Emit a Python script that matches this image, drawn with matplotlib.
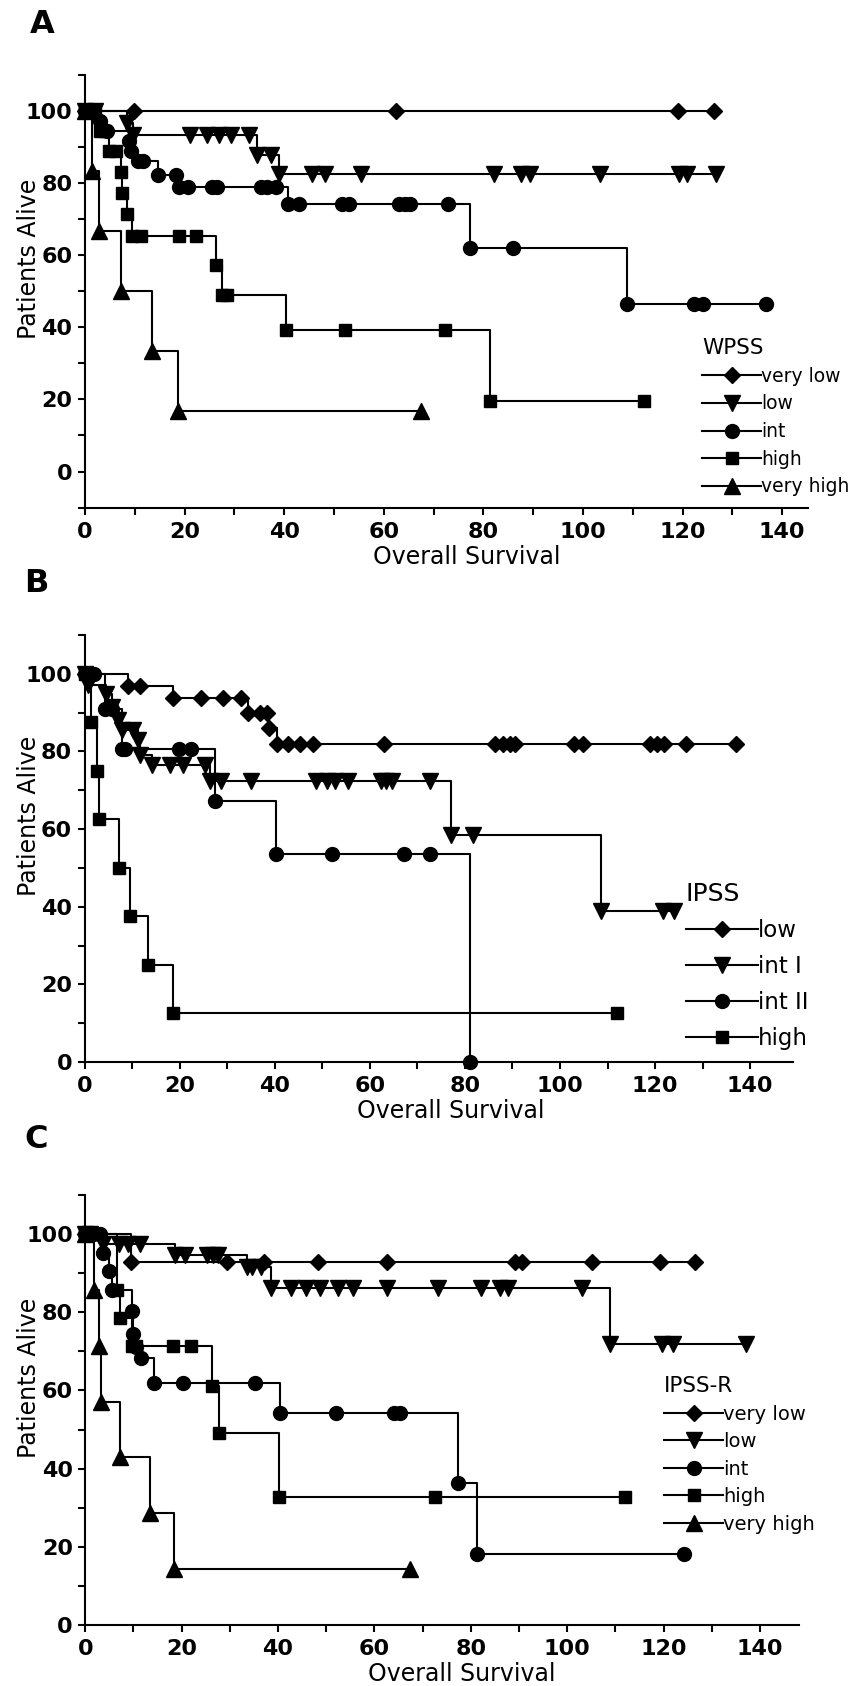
import matplotlib
matplotlib.use("Agg")
import matplotlib.pyplot as plt
from matplotlib.ticker import MultipleLocator

# ---------------- Panel A : WPSS ----------------
A_vlow_t = [0, 9.9, 62.5, 119, 126.4]
A_vlow_s = [100, 100, 100, 100, 100]
A_low_t = [0, 2, 8.5, 9.6, 21, 24.6, 27, 29.3, 33, 34.5, 37.3, 38.9, 45.6, 48.1, 55.4,
           82.2, 87.6, 89.3, 103.4, 119.3, 120.9, 126.7]
A_low_s = [100, 100, 96.7, 93.3, 93.3, 93.3, 93.3, 93.3, 93.3, 87.8, 87.8, 82.5, 82.5, 82.5,
           82.5, 82.5, 82.5, 82.5, 82.5, 82.5, 82.5, 82.5]
A_int_t = [0, 1.5, 3, 4.5, 8.8, 9.3, 10.6, 11.6, 14.6, 18.3, 18.8, 20.6, 25.6, 26.6, 35.3,
           36.6, 38.3, 40.7, 42.9, 51.6, 53, 63.1, 64.2, 65.3, 72.9, 77.3, 86, 108.9,
           122.3, 124.2, 136.7]
A_int_s = [100, 100, 97.2, 94.4, 91.7, 88.9, 86.1, 86.1, 82.2, 82.2, 78.8, 78.8, 78.8, 78.8,
           78.8, 78.8, 78.8, 74.2, 74.2, 74.2, 74.2, 74.2, 74.2, 74.2, 74.2, 62, 62, 46.3,
           46.3, 46.3, 46.3]
A_high_t = [0, 1, 2, 3, 4, 4.9, 6.2, 7.2, 7.5, 8.5, 9.5, 11.2, 18.9, 22.2, 26.3, 27.5, 28.5,
            40.4, 52.2, 72.3, 81.3, 112.2]
A_high_s = [100, 100, 100, 94.4, 94.4, 88.9, 88.9, 83.1, 77.3, 71.4, 65.4, 65.4, 65.4, 65.4,
            57.2, 49, 49, 39.2, 39.2, 39.2, 19.6, 19.6]
A_vhigh_t = [0, 1.4, 2.9, 7.2, 13.5, 18.6, 67.4]
A_vhigh_s = [100, 83.3, 66.7, 50, 33.3, 16.7, 16.7]
A_labels = ["very low", "low", "int", "high", "very high"]

# ---------------- Panel B : IPSS ----------------
B_low_t = [0, 1, 9.2, 11.6, 18.7, 24.6, 29.1, 33, 34.4, 36.9, 38.4, 38.7, 40.4, 42.9, 45.4,
           48, 62.9, 86.3, 88, 89.4, 90.6, 102.9, 104.8, 118.9, 120.3, 121.9, 126.5, 137.1]
B_low_s = [100, 100, 96.9, 96.9, 93.7, 93.7, 93.7, 93.7, 90, 90, 90, 86, 82, 82, 82, 82, 82,
           82, 82, 82, 82, 82, 82, 82, 82, 82, 82, 82]
B_int1_t = [0, 0.8, 4.6, 5.7, 7.1, 7.8, 10.3, 11.3, 11.6, 14.1, 17.9, 20.7, 25.3, 26.3, 28.8,
            35.1, 48.6, 50.9, 52.6, 55.4, 62.3, 63.4, 64.6, 72.6, 77.1, 81.7, 108.6, 121.7, 124]
B_int1_s = [100, 97, 94.9, 91.4, 88, 85.4, 85.4, 83, 79.2, 76.6, 76.6, 76.6, 76.6, 72.5, 72.5,
            72.5, 72.5, 72.5, 72.5, 72.5, 72.5, 72.5, 72.5, 72.5, 58.4, 58.4, 38.9, 38.9, 38.9]
B_int2_t = [0, 1, 2, 4.3, 5.7, 7.8, 8.6, 19.9, 22.3, 27.4, 40.2, 52, 67.1, 72.6, 81.1]
B_int2_s = [100, 100, 100, 90.9, 90.9, 80.7, 80.7, 80.7, 80.7, 67.2, 53.7, 53.7, 53.7, 53.7, 0]
B_high_t = [0, 1.3, 2.6, 3.1, 7.2, 9.5, 13.4, 18.6, 112]
B_high_s = [100, 87.5, 75, 62.5, 50, 37.5, 25, 12.5, 12.5]
B_labels = ["low", "int I", "int II", "high"]

# ---------------- Panel C : IPSS-R ----------------
C_vlow_t = [0, 9.4, 29.5, 37, 48.3, 62.6, 89.2, 90.6, 105.2, 119.3, 126.5]
C_vlow_s = [100, 92.9, 92.9, 92.9, 92.9, 92.9, 92.9, 92.9, 92.9, 92.9, 92.9]
C_low_t = [0, 1, 3.7, 6.9, 8.8, 11.4, 18.7, 20.7, 25.2, 26.6, 27.6, 33.6, 34.5, 36.4, 38.6,
           42.6, 45.7, 48.8, 52.5, 55.6, 62.6, 73.1, 82.1, 86, 87.8, 103, 108.9, 119.7, 121.9, 137]
C_low_s = [100, 100, 97.4, 97.4, 97.4, 97.4, 94.6, 94.6, 94.6, 94.6, 94.6, 91.5, 91.5, 91.5,
           86.1, 86.1, 86.1, 86.1, 86.1, 86.1, 86.1, 86.1, 86.1, 86.1, 86.1, 86.1,
           71.8, 71.8, 71.8, 71.8]
C_int_t = [0, 1.5, 3, 3.7, 4.9, 5.6, 9.6, 9.9, 10.5, 11.5, 14.3, 20.2, 35.3, 40.3, 52, 64.1,
           65.2, 77.4, 81.3, 124.2]
C_int_s = [100, 100, 100, 95.2, 90.5, 85.7, 80.2, 74.5, 71.2, 68.3, 62, 62, 62, 54.3, 54.3,
           54.3, 54.3, 36.2, 18.1, 18.1]
C_high_t = [0, 1, 2.5, 6.5, 7.1, 9.6, 10.5, 18.2, 22, 26.3, 27.7, 40.2, 72.5, 112]
C_high_s = [100, 100, 100, 85.7, 78.6, 71.4, 71.4, 71.4, 71.4, 61.2, 49, 32.7, 32.7, 32.7]
C_vhigh_t = [0, 1.9, 2.9, 3.2, 7.1, 13.5, 18.5, 67.4]
C_vhigh_s = [100, 85.7, 71.4, 57.1, 42.9, 28.6, 14.3, 14.3]
C_labels = ["very low", "low", "int", "high", "very high"]

x_ticks = [0, 20, 40, 60, 80, 100, 120, 140]
y_ticks = [0, 20, 40, 60, 80, 100]

# ---------------- styling ----------------
plt.rcParams["font.family"] = ["DejaVu Sans"]
W, H = 852, 1686
fig = plt.figure(figsize=(W / 100, H / 100), dpi=100)

MK = {"D": 8.6, "v": 11.5, "o": 10.0, "s": 9.0, "^": 11.5}
LW = 1.5


def px_axes(left, top, right, bottom):
    return fig.add_axes([left / W, 1 - bottom / H, (right - left) / W, (bottom - top) / H])


def style(ax, xmax, ymin):
    ax.set_xlim(0, xmax)
    ax.set_ylim(ymin, 110)
    for s in ("top", "right"):
        ax.spines[s].set_visible(False)
    for s in ("left", "bottom"):
        ax.spines[s].set_linewidth(LW)
    ax.set_xticks(x_ticks)
    ax.set_yticks(y_ticks)
    ax.xaxis.set_minor_locator(MultipleLocator(10))
    ax.yaxis.set_minor_locator(MultipleLocator(10))
    ax.tick_params(which="both", direction="out", length=5, width=LW)
    ax.tick_params(axis="x", which="major", pad=5, labelsize=16)
    ax.tick_params(axis="y", which="major", pad=4, labelsize=16)
    for lab in ax.get_xticklabels() + ax.get_yticklabels():
        lab.set_fontweight("bold")
    ax.set_xlabel("Overall Survival", fontsize=17)
    ax.set_ylabel("Patients Alive", fontsize=17)


def draw(ax, series, markers, labels):
    lines = []
    for (t, s), m, lab in zip(series, markers, labels):
        ln, = ax.plot(t, s, drawstyle="steps-post", color="black", lw=LW, marker=m,
                      ms=MK[m], mfc="black", mec="black", label=lab, clip_on=False,
                      zorder=3)
        lines.append(ln)
    return lines


def legend(ax, lines, title, left, top, fs, tfs, hl_px, row_px):
    fs_px = fs * 100 / 72
    ls = (row_px - 0.955 * fs_px) / fs_px
    ax.legend(handles=lines, title=title, loc="upper left",
              bbox_to_anchor=(left / W, 1 - top / H), bbox_transform=fig.transFigure,
              frameon=False, fontsize=fs, title_fontsize=tfs, handlelength=hl_px / fs_px,
              handletextpad=0.0, labelspacing=ls, borderpad=0, borderaxespad=0,
              alignment="left", numpoints=1)


def labels_pos(ax, axw, axh, xcenter_px, ycenter_px):
    ax.xaxis.set_label_coords(xcenter_px / axw, -37 / axh)
    ax.yaxis.set_label_coords(-44 / axw, ycenter_px / axh)


# Panel A
axA = px_axes(85, 74.5, 808, 507.7)
style(axA, 145.2, -10)
linesA = draw(axA,
              [(A_vlow_t, A_vlow_s), (A_low_t, A_low_s), (A_int_t, A_int_s),
               (A_high_t, A_high_s), (A_vhigh_t, A_vhigh_s)],
              ["D", "v", "o", "s", "^"], A_labels)
legend(axA, linesA, "WPSS", 702, 338, 13.5, 15.5, 59, 26.6)
labels_pos(axA, 723, 433.2, 382, 249)

# Panel B
axB = px_axes(84.5, 635, 793.5, 1062)
style(axB, 149.1, 0)
linesB = draw(axB,
              [(B_low_t, B_low_s), (B_int1_t, B_int1_s), (B_int2_t, B_int2_s),
               (B_high_t, B_high_s)],
              ["D", "v", "o", "s"], B_labels)
legend(axB, linesB, "IPSS", 686, 882, 16.5, 18, 72, 35)
labels_pos(axB, 709, 427, 366, 246)

# Panel C
axC = px_axes(85.3, 1195, 799, 1625)
style(axC, 148.1, 0)
linesC = draw(axC,
              [(C_vlow_t, C_vlow_s), (C_low_t, C_low_s), (C_int_t, C_int_s),
               (C_high_t, C_high_s), (C_vhigh_t, C_vhigh_s)],
              ["D", "v", "o", "s", "^"], C_labels)
legend(axC, linesC, "IPSS-R", 664, 1376, 14, 15.5, 59, 27.1)
labels_pos(axC, 713.7, 430, 376, 247)

# Panel letters
for letter, x, y in (("A", 30, 33), ("B", 24, 592), ("C", 24, 1148)):
    fig.text(x / W, 1 - y / H, letter, fontsize=23, fontweight="bold",
             ha="left", va="baseline")

fig.savefig("out.png", dpi=100)
